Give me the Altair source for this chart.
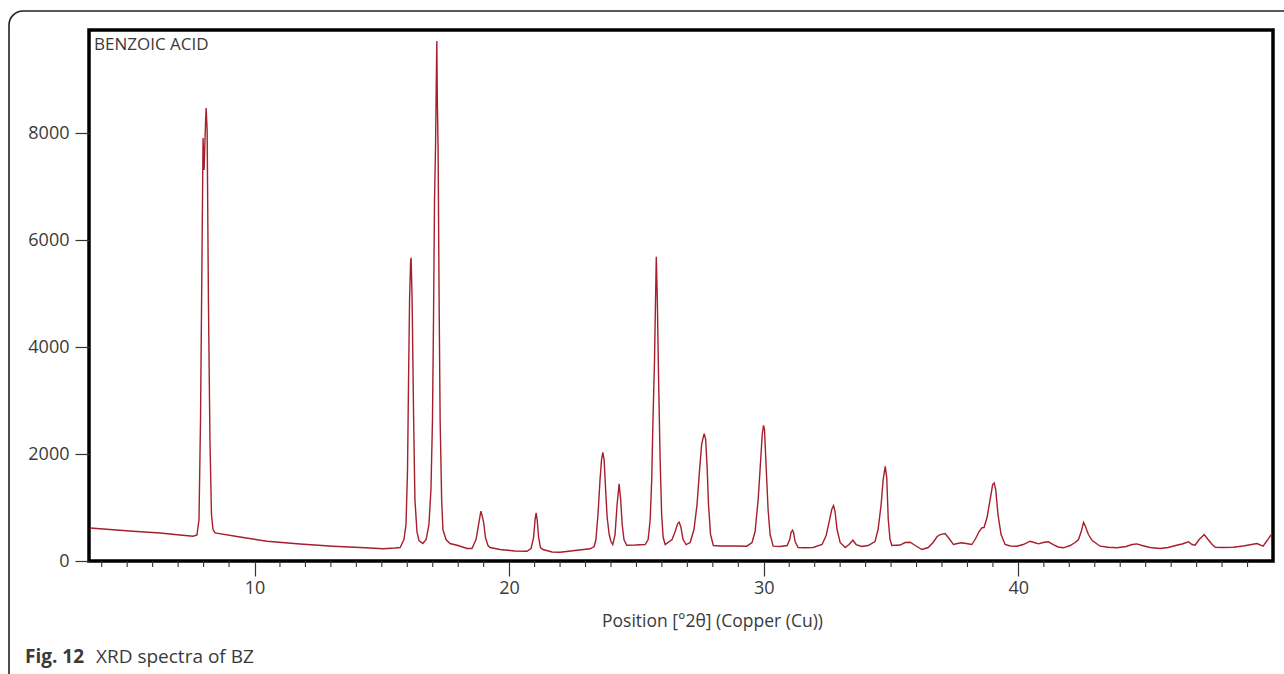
import altair as alt
import pandas as pd

# ---- data ----
two_theta = [
    3.54, 4.32, 5.23, 6.29, 7.07, 7.59, 7.74, 7.82, 7.88, 7.94, 7.98, 8.02, 8.08, 8.10, 8.14, 8.19, 8.25, 8.31, 8.37, 8.45,
    9.43, 10.49, 11.79, 13.08, 14.14, 15.05, 15.52,
    15.72, 15.87, 15.95, 16.01, 16.05, 16.09, 16.13, 16.15, 16.19, 16.25, 16.30, 16.38, 16.46, 16.61,
    16.74, 16.85, 16.93, 16.99, 17.03, 17.07, 17.11, 17.14, 17.16, 17.18, 17.21, 17.25, 17.29, 17.35, 17.40, 17.52, 17.68, 17.99, 18.35,
    18.54, 18.70, 18.80, 18.89, 18.94, 19.00, 19.07, 19.17, 19.25, 19.64, 20.23, 20.70,
    20.86, 20.96, 21.02, 21.06, 21.10, 21.16, 21.23, 21.33, 21.69, 22.00, 22.59, 23.18, 23.34,
    23.41, 23.49, 23.57, 23.63, 23.68, 23.73, 23.79, 23.85, 23.93, 24.00, 24.07,
    24.16, 24.24, 24.32, 24.38, 24.44, 24.51, 24.62, 24.95, 25.34,
    25.46, 25.54, 25.60, 25.65, 25.71, 25.75, 25.78, 25.82, 25.87, 25.93, 25.99, 26.05, 26.13,
    26.40, 26.52, 26.62, 26.68, 26.75, 26.83, 26.95,
    27.11, 27.26, 27.38, 27.48, 27.56, 27.62, 27.66, 27.72, 27.78, 27.83, 27.91, 28.02, 28.29, 28.87, 29.33, 29.54,
    29.66, 29.78, 29.88, 29.94, 29.99, 30.03, 30.09, 30.17, 30.25, 30.37, 30.64, 30.92,
    31.02, 31.07, 31.13, 31.17, 31.23, 31.35, 31.62, 31.94, 32.29,
    32.45, 32.57, 32.67, 32.74, 32.80, 32.88, 33.00, 33.20, 33.35, 33.50, 33.63, 33.85, 34.10, 34.37,
    34.49, 34.61, 34.69, 34.77, 34.83, 34.89, 34.96, 35.03, 35.36, 35.55, 35.75, 35.95, 36.21,
    36.46, 36.65, 36.81, 36.93, 37.12, 37.28, 37.45, 37.60, 37.78, 37.95, 38.17,
    38.30, 38.46, 38.56, 38.65, 38.77, 38.89, 38.99, 39.05, 39.11, 39.20, 39.32, 39.48, 39.68, 39.94,
    40.19, 40.46, 40.62, 40.79, 40.97, 41.18, 41.37, 41.56, 41.77, 42.03, 42.23, 42.36, 42.47, 42.56, 42.62, 42.75, 42.90,
    43.21, 43.53, 43.87, 44.23, 44.47, 44.65, 44.86, 45.17, 45.57, 45.88, 46.22, 46.43, 46.68, 46.82, 46.94,
    47.10, 47.30, 47.45, 47.61, 47.73, 48.00, 48.45, 48.83, 49.37, 49.61, 49.77, 49.93,
]
intensity = [
    617, 589, 557, 523, 486, 464, 486, 776, 2645, 5822, 7915, 7317, 8252, 8476, 8065, 4887, 2271, 869, 589, 527,
    449, 370, 318, 277, 252, 228, 243,
    252, 402, 682, 1710, 3392, 4887, 5598, 5672, 4887, 2645, 1149, 551, 383, 327,
    402, 682, 1336, 2645, 4514, 6756, 7747, 8999, 9728, 8625, 7747, 4887, 2645, 1149, 589, 402, 327, 290, 234,
    234, 402, 682, 931, 850, 720, 439, 290, 252, 215, 187, 183,
    234, 439, 776, 901, 776, 439, 252, 215, 168, 164, 196, 228, 271,
    402, 869, 1523, 1897, 2033, 1897, 1336, 813, 495, 364, 308,
    495, 1056, 1443, 1149, 682, 402, 295, 299, 308,
    402, 776, 1523, 2645, 3766, 4887, 5691, 4887, 3392, 1897, 869, 439, 308,
    402, 551, 701, 725, 626, 402, 308,
    346, 589, 1056, 1710, 2177, 2308, 2383, 2271, 1710, 1056, 495, 290, 280, 280, 277, 346,
    551, 1149, 1897, 2364, 2538, 2458, 1804, 963, 495, 277, 271, 290,
    402, 533, 576, 533, 364, 252, 247, 252, 308,
    477, 738, 963, 1037, 925, 589, 346, 252, 308, 389, 308, 271, 290, 364,
    589, 1056, 1523, 1772, 1561, 776, 402, 290, 299, 346, 351, 290, 215,
    252, 346, 458, 495, 514, 421, 308, 327, 340, 327, 308,
    402, 551, 620, 626, 813, 1149, 1430, 1462, 1336, 869, 495, 308, 280, 277,
    308, 370, 346, 321, 346, 359, 308, 262, 247, 290, 346, 402, 551, 725, 663, 495, 383,
    277, 258, 247, 271, 308, 321, 290, 252, 234, 252, 295, 318, 359, 308, 295,
    402, 495, 402, 308, 258, 252, 258, 280, 327, 277, 383, 495,
]

major_ticks_x = [10, 20, 30, 40]
minor_ticks_x = [4, 5, 6, 7, 8, 9, 11, 12, 13, 14, 15, 16, 17, 18, 19, 21, 22, 23, 24, 25, 26, 27, 28, 29,
                 31, 32, 33, 34, 35, 36, 37, 38, 39, 41, 42, 43, 44, 45, 46, 47, 48, 49]
ticks_y = [0, 2000, 4000, 6000, 8000]

sample_label = ["BENZOIC ACID"]
x_title = "Position [°2θ] (Copper (Cu))"
caption_bold = ["Fig. 12"]
caption_rest = ["XRD spectra of BZ"]

FONT = "Open Sans"
TXT = "#3a3a3a"

df = pd.DataFrame({"two_theta": two_theta, "intensity": intensity})
x_scale = alt.Scale(domain=[3.5, 50], nice=False, zero=False)
y_scale = alt.Scale(domain=[0, 9935], nice=False, zero=False)

line = alt.Chart(df).mark_line(color="#a51f2c", strokeWidth=1.4).encode(
    x=alt.X("two_theta:Q", scale=x_scale,
            axis=alt.Axis(values=major_ticks_x, tickSize=15, tickWidth=1.2, tickColor="#333",
                          domain=False, grid=False, labelFont=FONT, labelFontSize=18,
                          labelColor=TXT, labelPadding=3, format="d", title=x_title, titleFont=FONT,
                          titleFontSize=17.5, titleFontWeight="normal", titleColor=TXT,
                          titleX=623, titleY=60, titleAlign="center", titleBaseline="middle")),
    y=alt.Y("intensity:Q", scale=y_scale,
            axis=alt.Axis(values=ticks_y, tickSize=14, tickWidth=1.2, tickColor="#333",
                          domain=False, grid=False, labelFont=FONT, labelFontSize=18,
                          labelColor=TXT, labelPadding=6, format="d", title=None)),
)

minor = alt.Chart(pd.DataFrame({"two_theta": minor_ticks_x})).mark_rule(
    color="#333", strokeWidth=1.1, clip=False
).encode(
    x=alt.X("two_theta:Q", scale=x_scale),
    y=alt.value(531),
    y2=alt.value(537),
)

label = alt.Chart(pd.DataFrame({"t": sample_label})).mark_text(
    font=FONT, fontSize=17, color=TXT, align="left", baseline="middle"
).encode(text="t:N", x=alt.value(5), y=alt.value(15))

cap1 = alt.Chart(pd.DataFrame({"t": caption_bold})).mark_text(
    font=FONT, fontSize=19, fontWeight="bold", color=TXT, align="left", baseline="middle"
).encode(text="t:N", x=alt.value(-64), y=alt.value(627))

cap2 = alt.Chart(pd.DataFrame({"t": caption_rest})).mark_text(
    font=FONT, fontSize=19, color=TXT, align="left", baseline="middle"
).encode(text="t:N", x=alt.value(7), y=alt.value(627))

border = alt.Chart(pd.DataFrame({"a": [0]})).mark_rect(
    fillOpacity=0, stroke="#222", strokeWidth=1.6, cornerRadius=14, clip=False
).encode(x=alt.value(-80), x2=alt.value(1230), y=alt.value(-19), y2=alt.value(700))

chart = alt.layer(border, line, minor, label, cap1, cap2).properties(
    width=1184, height=531,
    padding={"left": 89, "top": 30, "right": 11, "bottom": 113},
    autosize=alt.AutoSizeParams(type="none"),
    background="white",
).configure_view(stroke="#000", strokeWidth=3.5)

chart.save("out.html", embed_options={"renderer": "svg", "actions": False})
